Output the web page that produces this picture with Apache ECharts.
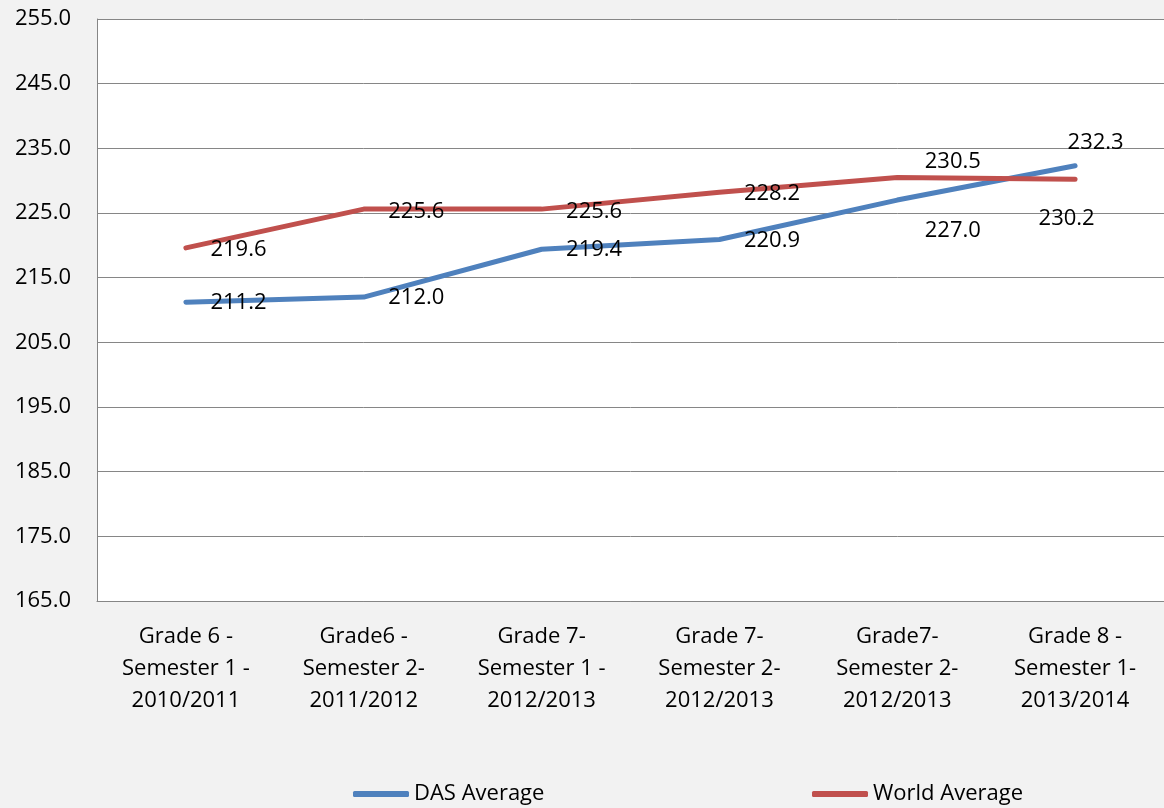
<!DOCTYPE html>
<html>
<head>
<meta charset="utf-8">
<script src="https://cdn.jsdelivr.net/npm/echarts@6/dist/echarts.min.js"></script>
<style>
html,body{margin:0;padding:0;background:#f2f2f2;}
#chart{width:1164px;height:808px;}
</style>
</head>
<body>
<div id="chart"></div>
<script>
var categories = [
  "Grade 6 -\nSemester 1 -\n2010/2011",
  "Grade6 -\nSemester 2-\n2011/2012",
  "Grade 7-\nSemester 1 -\n2012/2013",
  "Grade 7-\nSemester 2-\n2012/2013",
  "Grade7-\nSemester 2-\n2012/2013",
  "Grade 8 -\nSemester 1-\n2013/2014"
];
var dasAverage = [211.2, 212.0, 219.4, 220.9, 227.0, 232.3];
var worldAverage = [219.6, 225.6, 225.6, 228.2, 230.5, 230.2];
var yMin = 165, yMax = 255, yStep = 10;

var FONT = "'Open Sans', 'Noto Sans', sans-serif";
// label offsets relative to 'right' position (layout only)
var dasOffsets = [[0,0],[0,1],[0,1],[0,1],[3,31],[-32,-23]];
var worldOffsets = [[0,2],[0,3],[0,3],[0,1],[3,-16],[-61,39]];

function buildData(values, offsets) {
  return values.map(function (v, i) {
    return { value: v, label: { offset: offsets[i] } };
  });
}

var chart = echarts.init(document.getElementById('chart'));
var labelStyle = {
  show: true, position: 'right', distance: 24,
  color: '#000', fontFamily: FONT, fontSize: 22,
  formatter: function (p) { return p.value.toFixed(1); }
};
chart.setOption({
  backgroundColor: '#f2f2f2',
  animation: false,
  grid: { left: 97, top: 19, width: 1073, bottom: 207, show: true, backgroundColor: '#ffffff', borderWidth: 0 },
  legend: [
    { left: 348, top: 778, itemWidth: 56, itemHeight: 6, icon: 'roundRect',
      textStyle: { fontFamily: FONT, fontSize: 22, color: '#000' }, data: ['DAS Average'] },
    { left: 807, top: 778, itemWidth: 56, itemHeight: 6, icon: 'roundRect',
      textStyle: { fontFamily: FONT, fontSize: 22, color: '#000' }, data: ['World Average'] }
  ],
  xAxis: {
    type: 'category', data: categories, boundaryGap: true,
    axisLine: { show: true, lineStyle: { color: '#868686', width: 1 } },
    axisTick: { show: false },
    axisLabel: { interval: 0, margin: 20, color: '#000', fontFamily: FONT, fontSize: 22, lineHeight: 32 }
  },
  yAxis: {
    type: 'value', min: yMin, max: yMax, interval: yStep,
    axisLine: { show: true, lineStyle: { color: '#868686', width: 1 } },
    axisTick: { show: false },
    splitLine: { show: true, lineStyle: { color: '#868686', width: 1 } },
    axisLabel: { margin: 26, color: '#000', fontFamily: FONT, fontSize: 22,
      formatter: function (v) { return v.toFixed(1); } }
  },
  series: [
    { name: 'DAS Average', type: 'line', data: buildData(dasAverage, dasOffsets),
      symbol: 'circle', symbolSize: 1, showSymbol: true,
      lineStyle: { color: '#4f81bd', width: 5, cap: 'round' },
      itemStyle: { color: '#4f81bd' }, label: labelStyle },
    { name: 'World Average', type: 'line', data: buildData(worldAverage, worldOffsets),
      symbol: 'circle', symbolSize: 1, showSymbol: true,
      lineStyle: { color: '#c0504d', width: 5, cap: 'round' },
      itemStyle: { color: '#c0504d' }, label: labelStyle }
  ]
});
</script>
</body>
</html>
